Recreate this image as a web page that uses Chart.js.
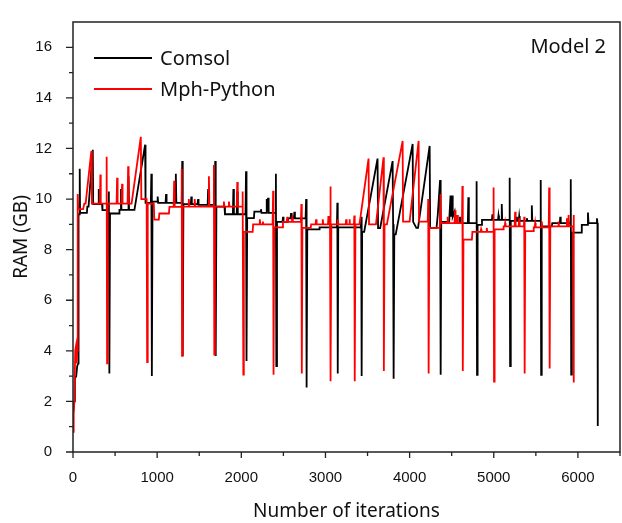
<!DOCTYPE html>
<html lang="en">
<head>
    <meta charset="UTF-8">
    <title>Model 2 - RAM</title>
    <script src="https://cdn.jsdelivr.net/npm/chart.js"></script>
    <style>
        html, body { margin: 0; padding: 0; background: #fff; }
        #ramChart { display: block; }
    </style>
</head>
<body>
    <canvas id="ramChart" width="622" height="523"></canvas>

    <script>
        // tick values
        const xTicks = [0, 1000, 2000, 3000, 4000, 5000, 6000];
        const xMinorTicks = [500, 1500, 2500, 3500, 4500, 5500, 6500];
        const yTicks = [0, 2, 4, 6, 8, 10, 12, 14, 16];
        const yMinorTicks = [1, 3, 5, 7, 9, 11, 13, 15];

        const seriesNames = ['Comsol', 'Mph-Python'];

        // [iteration, RAM in GB]
        const comsolData = [
            [0,1.5],[12,2.0],[22,2.9],[38,3.0],[50,3.4],[62,3.5],[66,9.4],[74,9.4],[80,11.2],[84,9.45],
            [165,9.45],[170,9.7],[185,9.7],[235,11.95],[240,9.8],[300,9.8],[306,10.4],[312,9.8],[345,9.8],
            [350,9.56],[420,9.56],[426,10.3],[432,3.1],[440,9.43],[548,9.43],[552,9.57],[566,9.57],[570,10.4],
            [576,9.57],[654,9.57],[660,10.9],[666,9.57],[730,9.57],[857,12.15],[862,9.85],[925,9.85],[931,11.0],
            [937,3.0],[945,9.9],[1000,9.9],[1006,10.1],[1012,9.85],[1100,9.85],[1106,10.2],[1112,9.85],
            [1216,9.85],[1222,11.0],[1228,9.85],[1292,9.85],[1298,11.5],[1304,3.8],[1312,9.8],[1400,9.8],
            [1406,10.1],[1412,9.8],[1480,9.8],[1486,10.0],[1492,9.77],[1600,9.77],[1606,10.4],[1612,9.77],
            [1684,9.77],[1690,11.5],[1696,3.8],[1704,9.7],[1800,9.7],[1806,9.4],[1900,9.4],[1906,10.4],
            [1912,9.4],[1946,9.4],[1952,10.3],[1958,9.4],[2050,9.4],[2056,11.1],[2062,3.6],[2070,9.25],
            [2150,9.25],[2155,9.5],[2228,9.5],[2234,9.6],[2240,9.45],[2296,9.45],[2302,10.0],[2310,9.6],
            [2318,10.05],[2325,9.45],[2405,9.45],[2411,11.0],[2416,3.4],[2424,9.1],[2490,9.1],[2496,9.3],
            [2502,9.1],[2550,9.1],[2554,9.24],[2585,9.24],[2591,9.45],[2597,9.24],[2625,9.24],[2631,9.5],
            [2637,9.24],[2764,9.24],[2770,10.0],[2776,2.55],[2784,8.8],[2925,8.8],[2930,8.88],[3136,8.88],
            [3141,9.85],[3146,3.1],[3152,8.88],[3420,8.88],[3425,9.3],[3430,3.0],[3436,8.7],[3460,8.7],
            [3619,11.6],[3625,8.85],[3650,8.85],[3798,11.5],[3804,9.0],[3810,2.9],[3818,8.6],[3835,8.6],
            [4036,12.18],[4042,9.1],[4080,8.86],[4100,8.86],[4238,12.1],[4244,8.86],[4320,8.86],[4335,9.4],
            [4362,10.75],[4369,3.05],[4376,9.1],[4470,9.1],[4486,10.14],[4492,9.3],[4506,10.14],[4512,9.3],
            [4534,9.5],[4540,9.05],[4595,9.05],[4599,9.3],[4603,9.05],[4692,9.05],[4698,10.07],[4704,9.05],
            [4790,9.05],[4796,10.7],[4801,3.05],[4808,8.98],[4855,8.98],[4860,9.18],[4978,9.18],[4984,9.4],
            [4990,9.18],[5050,9.18],[5056,9.35],[5062,9.18],[5090,9.18],[5095,9.8],[5100,9.18],[5184,9.18],
            [5189,10.84],[5194,3.4],[5202,9.14],[5268,9.14],[5274,9.3],[5280,9.14],[5296,9.14],[5302,9.33],
            [5308,9.14],[5387,9.14],[5393,9.24],[5399,9.14],[5446,9.14],[5452,9.75],[5458,9.14],[5553,9.14],
            [5558,10.75],[5563,3.05],[5570,8.92],[5690,8.92],[5695,9.05],[5785,9.05],[5790,9.3],[5796,9.05],
            [5910,9.05],[5915,10.78],[5920,3.06],[5928,8.67],[6040,8.67],[6046,8.98],[6112,8.98],[6119,9.47],
            [6126,9.05],[6220,9.05],[6226,9.24],[6232,9.05],[6236,1.03]
        ];

        const mphPythonData = [
            [0,0.8],[8,1.5],[16,2.0],[22,2.0],[26,4.0],[36,4.2],[44,3.5],[50,4.0],[56,10.2],[62,9.6],
            [120,9.6],[135,9.82],[150,9.82],[218,11.9],[224,9.82],[320,9.82],[325,10.97],[330,9.82],[395,9.82],
            [400,11.67],[405,3.5],[412,9.82],[518,9.82],[524,10.84],[530,9.82],[577,9.82],[583,10.6],[589,9.82],
            [649,9.82],[655,11.3],[661,9.82],[696,9.82],[806,12.46],[812,10.0],[875,10.0],[881,3.55],[888,9.82],
            [960,9.82],[966,9.19],[1020,9.19],[1026,9.43],[1140,9.43],[1146,9.69],[1196,9.69],[1202,10.72],
            [1208,9.69],[1288,9.69],[1292,11.2],[1296,3.8],[1303,9.7],[1370,9.7],[1376,10.0],[1382,9.7],
            [1440,9.7],[1446,10.0],[1452,9.7],[1609,9.7],[1615,10.9],[1621,9.7],[1668,9.7],[1674,11.35],
            [1679,3.85],[1686,9.7],[1787,9.7],[1793,9.9],[1799,9.7],[1847,9.7],[1853,9.9],[1859,9.7],
            [1946,9.7],[1952,10.67],[1958,9.7],[2010,9.7],[2016,10.3],[2024,3.06],[2030,8.7],[2135,8.7],
            [2140,9.0],[2214,9.0],[2220,9.2],[2226,9.0],[2250,9.0],[2256,9.11],[2262,9.0],[2372,9.0],
            [2378,10.33],[2383,3.05],[2390,8.88],[2490,8.88],[2495,9.1],[2540,9.1],[2546,9.3],[2552,9.1],
            [2600,9.1],[2606,9.24],[2612,9.1],[2708,9.1],[2714,9.8],[2719,3.1],[2726,8.86],[2825,8.86],
            [2830,9.0],[2883,9.0],[2889,9.2],[2895,9.0],[2962,9.0],[2968,9.2],[2974,9.0],[3030,9.0],
            [3035,9.33],[3040,9.0],[3054,9.0],[3058,10.5],[3063,2.8],[3070,9.0],[3141,9.0],[3147,9.2],
            [3153,9.0],[3240,9.0],[3246,9.2],[3252,9.0],[3280,9.0],[3285,9.2],[3291,9.0],[3338,9.0],
            [3343,9.35],[3348,2.8],[3356,9.0],[3404,9.0],[3512,11.6],[3518,9.0],[3600,9.0],[3690,11.65],
            [3694,3.2],[3702,9.0],[3730,9.0],[3917,12.3],[3922,9.11],[4000,9.11],[4107,12.3],[4112,9.11],
            [4215,9.11],[4221,10.0],[4226,3.1],[4234,8.86],[4360,8.86],[4367,10.2],[4373,9.05],[4446,9.05],
            [4452,9.3],[4458,9.05],[4534,9.05],[4540,9.56],[4546,9.05],[4562,9.05],[4568,9.37],[4574,9.05],
            [4622,9.05],[4627,10.52],[4632,3.2],[4640,8.4],[4740,8.4],[4746,8.7],[4843,8.7],[4849,8.8],
            [4855,8.7],[4911,8.7],[4917,8.86],[4923,8.7],[4994,8.7],[4998,10.46],[5003,2.78],[5010,8.8],
            [5112,8.8],[5117,8.92],[5130,8.92],[5135,9.05],[5140,8.92],[5248,8.92],[5254,9.5],[5260,8.92],
            [5296,8.92],[5302,9.24],[5308,8.92],[5358,8.92],[5362,9.3],[5367,3.1],[5374,8.73],[5470,8.73],
            [5475,8.88],[5486,8.88],[5492,9.05],[5498,8.88],[5565,8.88],[5571,9.11],[5577,8.88],[5653,8.88],
            [5658,10.46],[5664,3.3],[5672,8.92],[5764,8.92],[5770,9.11],[5776,8.92],[5863,8.92],[5869,9.24],
            [5875,8.92],[5883,8.92],[5889,9.37],[5895,8.92],[5944,8.92],[5948,9.37],[5953,2.75]
        ];

        const colors = ['#000000', '#ff0000'];
        const labelFont = '"Noto Sans", sans-serif';
        const tickFont = '"Liberation Sans", Arial, sans-serif';

        // frame, minor/major ticks, legend and the "Model 2" tag
        const decorPlugin = {
            id: 'decor',
            afterDraw(chart) {
                const { ctx, chartArea: a, scales: { x, y } } = chart;
                ctx.save();
                ctx.strokeStyle = '#222';
                ctx.lineWidth = 1.5;
                ctx.strokeRect(a.left, a.top, a.right - a.left, a.bottom - a.top);

                ctx.lineWidth = 1.3;
                ctx.beginPath();
                yTicks.forEach(v => { const p = y.getPixelForValue(v); ctx.moveTo(a.left, p); ctx.lineTo(a.left - 7, p); });
                yMinorTicks.forEach(v => { const p = y.getPixelForValue(v); ctx.moveTo(a.left, p); ctx.lineTo(a.left - 4, p); });
                xTicks.forEach(v => { const p = x.getPixelForValue(v); ctx.moveTo(p, a.bottom); ctx.lineTo(p, a.bottom + 6); });
                xMinorTicks.forEach(v => { const p = x.getPixelForValue(v); ctx.moveTo(p, a.bottom); ctx.lineTo(p, a.bottom + 4); });
                ctx.stroke();

                // legend
                ctx.font = '20px ' + labelFont;
                ctx.textBaseline = 'middle';
                ctx.textAlign = 'left';
                seriesNames.forEach((name, i) => {
                    const ly = a.top + 36 + i * 31;
                    ctx.strokeStyle = colors[i];
                    ctx.lineWidth = 1.8;
                    ctx.beginPath();
                    ctx.moveTo(a.left + 21, ly);
                    ctx.lineTo(a.left + 79, ly);
                    ctx.stroke();
                    ctx.fillStyle = '#111';
                    ctx.fillText(name, a.left + 87, ly + 1);
                });

                ctx.textAlign = 'right';
                ctx.fillText('Model 2', a.right - 14, a.top + 25);
                ctx.restore();
            }
        };

        const toPoints = rows => rows.map(r => ({ x: r[0], y: r[1] }));

        new Chart(document.getElementById('ramChart'), {
            type: 'line',
            data: {
                datasets: [
                    {
                        label: seriesNames[0],
                        data: toPoints(comsolData),
                        borderColor: colors[0],
                        borderWidth: 1.8,
                        pointRadius: 0,
                        tension: 0,
                        order: 2
                    },
                    {
                        label: seriesNames[1],
                        data: toPoints(mphPythonData),
                        borderColor: colors[1],
                        borderWidth: 1.8,
                        pointRadius: 0,
                        tension: 0,
                        order: 1
                    }
                ]
            },
            options: {
                responsive: false,
                animation: false,
                layout: { padding: { top: 7, right: 2, left: 0, bottom: 0 } },
                plugins: {
                    legend: { display: false },
                    tooltip: { enabled: false }
                },
                scales: {
                    x: {
                        type: 'linear',
                        min: 0,
                        max: 6500,
                        afterFit: s => { s.height = 71; },
                        afterBuildTicks: s => { s.ticks = xTicks.map(v => ({ value: v })); },
                        grid: { display: false },
                        border: { display: false },
                        ticks: {
                            padding: 9,
                            color: '#111',
                            font: { family: tickFont, size: 15 },
                            maxRotation: 0,
                            callback: v => String(v)
                        },
                        title: {
                            display: true,
                            text: 'Number of iterations',
                            color: '#111',
                            font: { family: labelFont, size: 19 },
                            padding: { top: 0, bottom: 0 }
                        }
                    },
                    y: {
                        min: 0,
                        max: 17,
                        afterFit: s => { s.width = 73; },
                        afterBuildTicks: s => { s.ticks = yTicks.map(v => ({ value: v })); },
                        grid: { display: false },
                        border: { display: false },
                        ticks: {
                            padding: 13,
                            color: '#111',
                            font: { family: tickFont, size: 15 },
                            callback: v => String(v)
                        },
                        title: {
                            display: true,
                            text: 'RAM (GB)',
                            color: '#111',
                            font: { family: labelFont, size: 19 },
                            padding: { top: 10, bottom: 0 }
                        }
                    }
                }
            },
            plugins: [decorPlugin]
        });
    </script>
</body>
</html>
